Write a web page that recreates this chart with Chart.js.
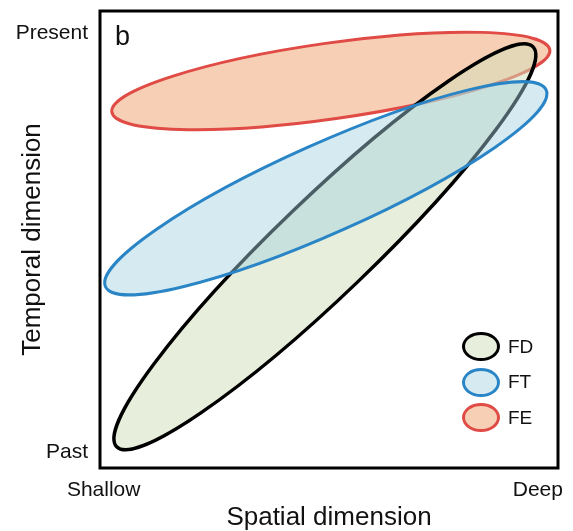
<!DOCTYPE html>
<html>
<head>
<meta charset="utf-8">
<script src="https://cdn.jsdelivr.net/npm/chart.js@4.4.1/dist/chart.umd.min.js"></script>
<style>
  body { margin:0; background:#fff; }
  #wrap { position:relative; width:573px; height:531px; }
  #legend { position:absolute; left:462px; top:329px; font-family:"Liberation Sans", Arial, sans-serif; font-size:19px; color:#111; }
  .item { display:flex; align-items:center; height:35.5px; }
  .swatch { box-sizing:border-box; width:38px; height:29px; border:3px solid; border-radius:50%; margin-right:8px; }
</style>
</head>
<body>
<div id="wrap">
  <canvas id="chart"></canvas>
  <div id="legend"></div>
</div>
<script>
// niches, in axis units (0..100 on both axes)
const groups = ['FD', 'FT', 'FE'];
const centerX = [49.1, 49.3, 50.4];
const centerY = [48.4, 61.2, 84.7];
const halfLength = [63.1, 52.7, 48.3];
const halfWidth = [10.5, 9.8, 8.3];
const tiltDeg = [43.9, 24.1, 8.1];

const xTickLabels = ['Shallow', 'Deep'];
const xTickValues = [0.8, 95.6];
const yTickLabels = ['Past', 'Present'];
const yTickValues = [3.5, 95.2];

const strokeColors = ['#000000', '#2a85c7', '#e04b46'];
const fillColors = ['rgba(209,222,186,0.52)', 'rgba(162,211,224,0.45)', 'rgba(238,160,105,0.5)'];
const lineWidths = [3.4, 3, 3];
const drawOrder = [2, 1, 3]; // FE at the bottom, FT on top

const FONT = '"Liberation Sans", Arial, sans-serif';

const ellipsePlugin = {
  id: 'ellipses',
  beforeDatasetDraw(chart, args){
    const i = args.index;
    const ds = chart.data.datasets[i];
    const sx = chart.scales.x, sy = chart.scales.y;
    const p = ds.data[0];
    const kx = sx.getPixelForValue(1) - sx.getPixelForValue(0);
    const ky = sy.getPixelForValue(0) - sy.getPixelForValue(1);
    const ctx = chart.ctx;
    ctx.save();
    ctx.save();
    ctx.translate(sx.getPixelForValue(p.x), sy.getPixelForValue(p.y));
    ctx.scale(kx, -ky);
    ctx.rotate(ds.tilt * Math.PI / 180);
    ctx.beginPath();
    ctx.ellipse(0, 0, ds.halfLength, ds.halfWidth, 0, 0, Math.PI * 2);
    ctx.restore();
    ctx.fillStyle = ds.backgroundColor;
    ctx.fill();
    ctx.lineWidth = ds.borderWidth;
    ctx.strokeStyle = ds.borderColor;
    ctx.stroke();
    ctx.restore();
  }
};

const framePlugin = {
  id: 'frame',
  afterDatasetsDraw(chart){
    const {ctx, chartArea: a} = chart;
    ctx.save();
    ctx.lineWidth = 3;
    ctx.strokeStyle = '#000';
    ctx.strokeRect(a.left, a.top, a.right - a.left, a.bottom - a.top);
    ctx.fillStyle = '#111';
    ctx.font = '27px ' + FONT;
    ctx.textBaseline = 'alphabetic';
    ctx.fillText('b', a.left + 15, a.top + 34);
    ctx.restore();
  }
};

const datasets = groups.map((g, i) => ({
  label: g,
  data: [{x: centerX[i], y: centerY[i]}],
  halfLength: halfLength[i],
  halfWidth: halfWidth[i],
  tilt: tiltDeg[i],
  borderColor: strokeColors[i],
  backgroundColor: fillColors[i],
  borderWidth: lineWidths[i],
  order: drawOrder[i],
  pointRadius: 0,
  showLine: false
}));

new Chart(document.getElementById('chart'), {
  type: 'scatter',
  data: { datasets },
  plugins: [ellipsePlugin, framePlugin],
  options: {
    responsive: true,
    maintainAspectRatio: false,
    animation: false,
    layout: { padding: { top: 11, right: 15, left: 0, bottom: 0 } },
    plugins: { legend: { display: false }, tooltip: { enabled: false } },
    scales: {
      x: {
        min: 0, max: 100,
        grid: { display: false, drawTicks: false },
        border: { display: false },
        afterFit(s){ s.height = 63; s.paddingLeft = 0; s.paddingRight = 0; },
        afterBuildTicks(s){ s.ticks = xTickValues.map(v => ({value: v})); },
        ticks: { autoSkip: false, maxRotation: 0, padding: 10, color: '#111',
          font: { family: FONT, size: 21 },
          callback: (v, i) => xTickLabels[i] },
        title: { display: true, text: 'Spatial dimension', color: '#111',
          font: { family: FONT, size: 26, lineHeight: 1 }, padding: { top: 0, bottom: 0 } }
      },
      y: {
        min: 0, max: 100,
        grid: { display: false, drawTicks: false },
        border: { display: false },
        afterFit(s){ s.width = 100; s.paddingTop = 0; s.paddingBottom = 0; },
        afterBuildTicks(s){ s.ticks = yTickValues.map(v => ({value: v})); },
        ticks: { autoSkip: false, padding: 12, color: '#111',
          font: { family: FONT, size: 21 },
          callback: (v, i) => yTickLabels[i] },
        title: { display: true, text: 'Temporal dimension', color: '#111',
          font: { family: FONT, size: 26, lineHeight: 1.2 }, padding: { top: 17, bottom: 0 } }
      }
    }
  }
});

// legend
const legend = document.getElementById('legend');
groups.forEach((g, i) => {
  const item = document.createElement('div'); item.className = 'item';
  const sw = document.createElement('span'); sw.className = 'swatch';
  sw.style.borderColor = strokeColors[i];
  sw.style.background = fillColors[i];
  const tx = document.createElement('span'); tx.textContent = g;
  item.appendChild(sw); item.appendChild(tx); legend.appendChild(item);
});
</script>
</body>
</html>
